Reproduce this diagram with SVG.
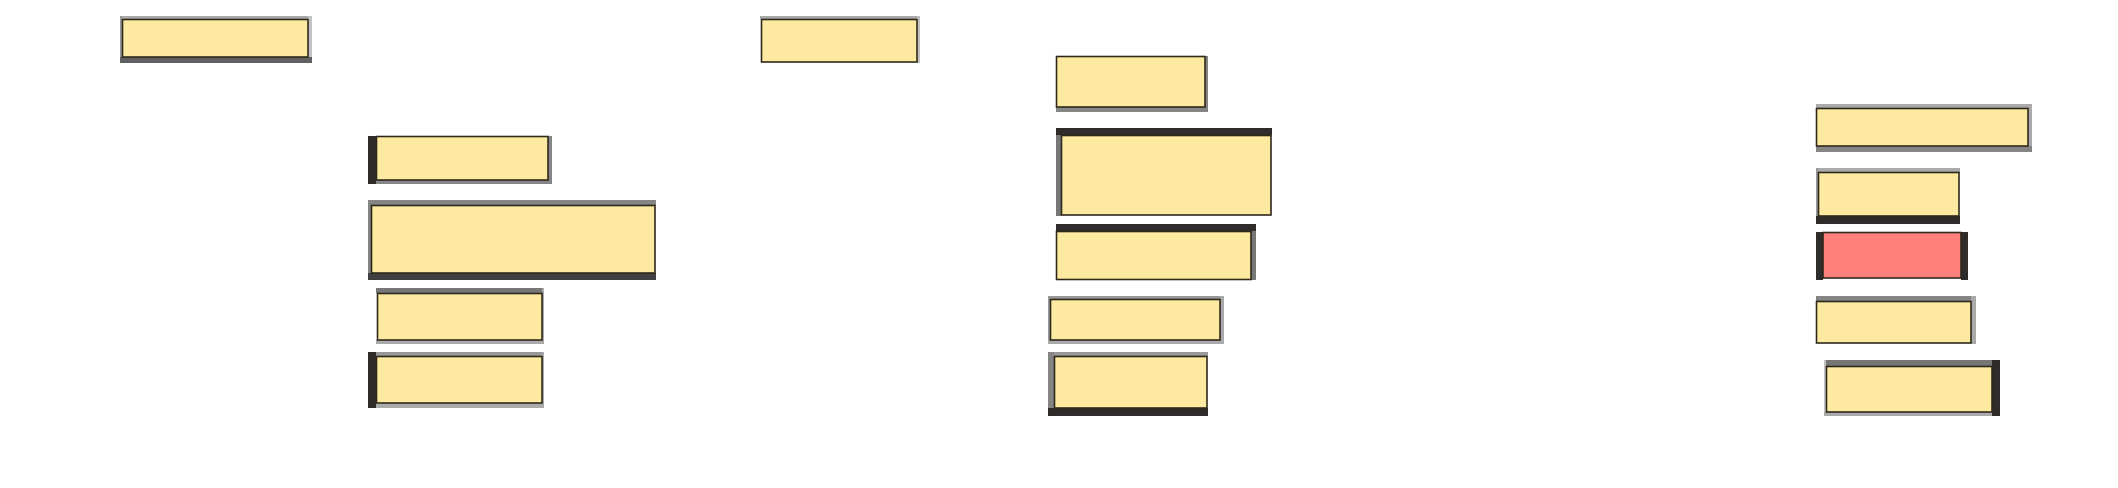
<svg xmlns="http://www.w3.org/2000/svg" width="2118" height="488" viewBox="0 0 2118 488">
<style>
.in{fill:#fee9a1;stroke:#2e2818;stroke-width:1.6}
.red{fill:#ff7f7b;stroke:#2e2818;stroke-width:1.6}
.dk{fill:#2f2d2b}
.g4{fill:#404040}
.g6{fill:#606060}
.g7{fill:#777777}
.g8{fill:#858585}
.g9{fill:#999999}
.ga{fill:#aaaaaa}
.gc{fill:#c2c2c2}
</style>
<rect width="2118" height="488" fill="#ffffff"/>
<g id="node1">
<rect class="ga" x="120" y="16" width="192" height="3"/><rect class="g9" x="120" y="16" width="2" height="47"/><rect class="gc" x="308" y="16" width="4" height="47"/><rect class="g6" x="120" y="57" width="192" height="6"/>
<rect class="in" x="122.5" y="19.5" width="185.5" height="37.5"/>
</g>
<g id="node2">
<rect class="ga" x="760" y="16" width="160" height="3"/><rect class="gc" x="917" y="16" width="3" height="47"/>
<rect class="in" x="761.5" y="19.5" width="155.5" height="42.5"/>
</g>
<g id="node3">
<rect class="g8" x="1205" y="56" width="3" height="56"/><rect class="g8" x="1056" y="107" width="152" height="5"/>
<rect class="in" x="1056.5" y="56.5" width="148.5" height="50.5"/>
</g>
<g id="node4">
<rect class="g8" x="548" y="136" width="4" height="48"/><rect class="g8" x="368" y="180" width="184" height="4"/><rect class="dk" x="368" y="136" width="8" height="48"/>
<rect class="in" x="376.5" y="136.5" width="171.5" height="43.5"/>
</g>
<g id="node5">
<rect class="g8" x="368" y="200" width="288" height="5"/><rect class="g8" x="368" y="200" width="3" height="80"/><rect class="g4" x="368" y="273" width="288" height="7"/>
<rect class="in" x="371.5" y="205.5" width="283.5" height="67.5"/>
</g>
<g id="node6">
<rect class="g7" x="1056" y="128" width="5" height="88"/><rect class="dk" x="1056" y="128" width="216" height="7"/>
<rect class="in" x="1061.5" y="135.5" width="209.5" height="79.5"/>
</g>
<g id="node7">
<rect class="g7" x="1251" y="224" width="5" height="56"/><rect class="dk" x="1056" y="224" width="200" height="7"/>
<rect class="in" x="1056.5" y="231.5" width="194.5" height="48"/>
</g>
<g id="node8">
<rect class="ga" x="1816" y="104" width="216" height="4"/><rect class="ga" x="2028" y="104" width="4" height="48"/><rect class="g8" x="1816" y="146" width="216" height="6"/>
<rect class="in" x="1816.5" y="108.5" width="211.5" height="37.5"/>
</g>
<g id="node9">
<rect class="ga" x="1816" y="168" width="144" height="5"/><rect class="g9" x="1816" y="168" width="2" height="56"/><rect class="dk" x="1816" y="216" width="144" height="8"/>
<rect class="in" x="1818.5" y="172.5" width="140.5" height="43.5"/>
</g>
<g id="node10">
<rect class="dk" x="1816" y="232" width="7" height="48"/><rect class="dk" x="1961" y="232" width="7" height="48"/>
<rect class="red" x="1823" y="232.5" width="138" height="45.5"/>
</g>
<g id="node11">
<rect class="g7" x="376" y="288" width="168" height="5"/><rect class="ga" x="542" y="288" width="2" height="56"/><rect class="ga" x="376" y="340" width="168" height="4"/>
<rect class="in" x="377.5" y="293.5" width="164.5" height="46.5"/>
</g>
<g id="node12">
<rect class="g9" x="368" y="352" width="176" height="4"/><rect class="ga" x="542" y="352" width="2" height="56"/><rect class="ga" x="368" y="403" width="176" height="5"/><rect class="dk" x="368" y="352" width="8" height="56"/>
<rect class="in" x="376.5" y="356.5" width="165.5" height="46.5"/>
</g>
<g id="node13">
<rect class="g9" x="1048" y="296" width="176" height="3"/><rect class="g9" x="1048" y="296" width="2" height="48"/><rect class="ga" x="1220" y="296" width="4" height="48"/><rect class="ga" x="1048" y="340" width="176" height="4"/>
<rect class="in" x="1050.5" y="299.5" width="169.5" height="40.5"/>
</g>
<g id="node14">
<rect class="g9" x="1048" y="352" width="160" height="4"/><rect class="g8" x="1048" y="352" width="6" height="64"/><rect class="dk" x="1048" y="408" width="160" height="8"/>
<rect class="in" x="1054.5" y="356.5" width="152.5" height="51.5"/>
</g>
<g id="node15">
<rect class="g8" x="1816" y="296" width="160" height="5"/><rect class="ga" x="1971" y="296" width="5" height="48"/>
<rect class="in" x="1816.5" y="301.5" width="154.5" height="41.5"/>
</g>
<g id="node16">
<rect class="g7" x="1824" y="360" width="176" height="6"/><rect class="gc" x="1824" y="360" width="2" height="56"/><rect class="ga" x="1824" y="412" width="176" height="4"/><rect class="dk" x="1992" y="360" width="8" height="56"/>
<rect class="in" x="1826.5" y="366.5" width="165.5" height="45.5"/>
</g>
<g id="connectors"></g>
</svg>
